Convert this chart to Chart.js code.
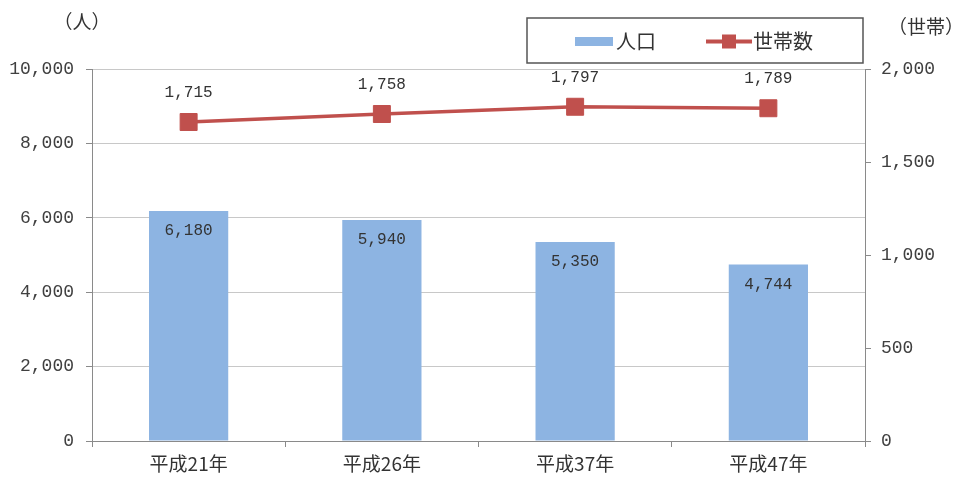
<!DOCTYPE html>
<html lang="ja">
<head>
<meta charset="utf-8">
<script src="https://cdn.jsdelivr.net/npm/chart.js@4"></script>
<style>
  html, body { margin: 0; padding: 0; background: #fff; }
  canvas { display: block; }
</style>
</head>
<body>
<canvas id="grafico" width="961" height="478"></canvas>
<script>
const anos = ["平成21年", "平成26年", "平成37年", "平成47年"];
const populacao = [6180, 5940, 5350, 4744];
const domicilios = [1715, 1758, 1797, 1789];
const eixoPopulacao = { min: 0, max: 10000, passo: 2000 };
const eixoDomicilios = { min: 0, max: 2000, passo: 500 };

const fonteNum = '"Liberation Mono", "DejaVu Sans Mono", monospace';
const fonteJp = '"Noto Sans CJK JP", sans-serif';
const cinzaEixo = "#8a8a8a";
const corTexto = "#333";
const azul = "#8DB4E2";
const vermelho = "#C0504D";

const formatar = v => Number(v).toLocaleString("en-US");

// valores escritos em cima das barras e dos pontos
const rotulos = {
  id: "rotulos",
  afterDatasetsDraw(chart) {
    const ctx = chart.ctx;
    ctx.save();
    ctx.font = "16px " + fonteNum;
    ctx.fillStyle = corTexto;
    ctx.textAlign = "center";
    ctx.textBaseline = "middle";
    chart.data.datasets.forEach((ds, i) => {
      const meta = chart.getDatasetMeta(i);
      meta.data.forEach((el, j) => {
        const texto = formatar(ds.data[j]);
        if (ds.type === "line") {
          ctx.fillText(texto, el.x, el.y - 29);
        } else {
          ctx.fillText(texto, el.x, el.y + 20);
        }
      });
    });
    ctx.restore();
  }
};

// legenda com moldura e unidades dos eixos
const legenda = {
  id: "legenda",
  afterDraw(chart) {
    const ctx = chart.ctx;
    ctx.save();
    ctx.fillStyle = "#fff";
    ctx.fillRect(527, 18, 336, 45);
    ctx.strokeStyle = "#555";
    ctx.lineWidth = 1.5;
    ctx.strokeRect(527, 18, 336, 45);

    ctx.fillStyle = azul;
    ctx.fillRect(575, 37, 38, 9);

    ctx.strokeStyle = vermelho;
    ctx.lineWidth = 4;
    ctx.beginPath();
    ctx.moveTo(706, 41.5);
    ctx.lineTo(752, 41.5);
    ctx.stroke();
    ctx.fillStyle = vermelho;
    ctx.fillRect(722, 34.5, 14, 14);

    ctx.fillStyle = corTexto;
    ctx.font = "20px " + fonteJp;
    ctx.textBaseline = "middle";
    ctx.textAlign = "left";
    ctx.fillText(chart.data.datasets[1].label, 616, 41);
    ctx.fillText(chart.data.datasets[0].label, 753, 41);

    ctx.font = "19px " + fonteJp;
    ctx.textAlign = "center";
    ctx.fillText("（人）", 82, 22);
    ctx.fillText("（世帯）", 926, 27);
    ctx.restore();
  }
};

document.addEventListener("DOMContentLoaded", () => {
  new Chart(document.getElementById("grafico"), {
    type: "bar",
    data: {
      labels: anos,
      datasets: [
        {
          type: "line",
          label: "世帯数",
          data: domicilios,
          yAxisID: "y1",
          borderColor: vermelho,
          backgroundColor: vermelho,
          borderWidth: 3.5,
          pointStyle: "rect",
          pointRadius: 12,
          pointHoverRadius: 12,
          pointBorderWidth: 1,
          tension: 0,
          order: 0
        },
        {
          type: "bar",
          label: "人口",
          data: populacao,
          yAxisID: "y",
          backgroundColor: azul,
          barPercentage: 0.41,
          categoryPercentage: 1,
          order: 1
        }
      ]
    },
    options: {
      responsive: false,
      animation: false,
      events: [],
      layout: { padding: { top: 69, left: 0, right: 0, bottom: 0 } },
      plugins: {
        legend: { display: false },
        tooltip: { enabled: false }
      },
      scales: {
        x: {
          offset: true,
          afterFit: s => { s.height = 37; },
          grid: {
            offset: true,
            drawOnChartArea: false,
            color: cinzaEixo,
            tickLength: 6
          },
          border: { color: cinzaEixo },
          ticks: {
            color: corTexto,
            font: { family: fonteJp, size: 19 },
            padding: 5
          }
        },
        y: {
          position: "left",
          min: eixoPopulacao.min,
          max: eixoPopulacao.max,
          afterFit: s => { s.width = 92; },
          grid: {
            color: "#c8c8c8",
            tickColor: cinzaEixo,
            tickLength: 6
          },
          border: { color: cinzaEixo },
          ticks: {
            stepSize: eixoPopulacao.passo,
            color: "#404040",
            font: { family: fonteNum, size: 18 },
            padding: 12,
            callback: v => formatar(v)
          }
        },
        y1: {
          position: "right",
          min: eixoDomicilios.min,
          max: eixoDomicilios.max,
          afterFit: s => { s.width = 96; },
          grid: {
            drawOnChartArea: false,
            tickColor: cinzaEixo,
            tickLength: 6
          },
          border: { color: cinzaEixo },
          ticks: {
            stepSize: eixoDomicilios.passo,
            color: "#404040",
            font: { family: fonteNum, size: 18 },
            padding: 10,
            callback: v => formatar(v)
          }
        }
      }
    },
    plugins: [rotulos, legenda]
  });
});
</script>
</body>
</html>
